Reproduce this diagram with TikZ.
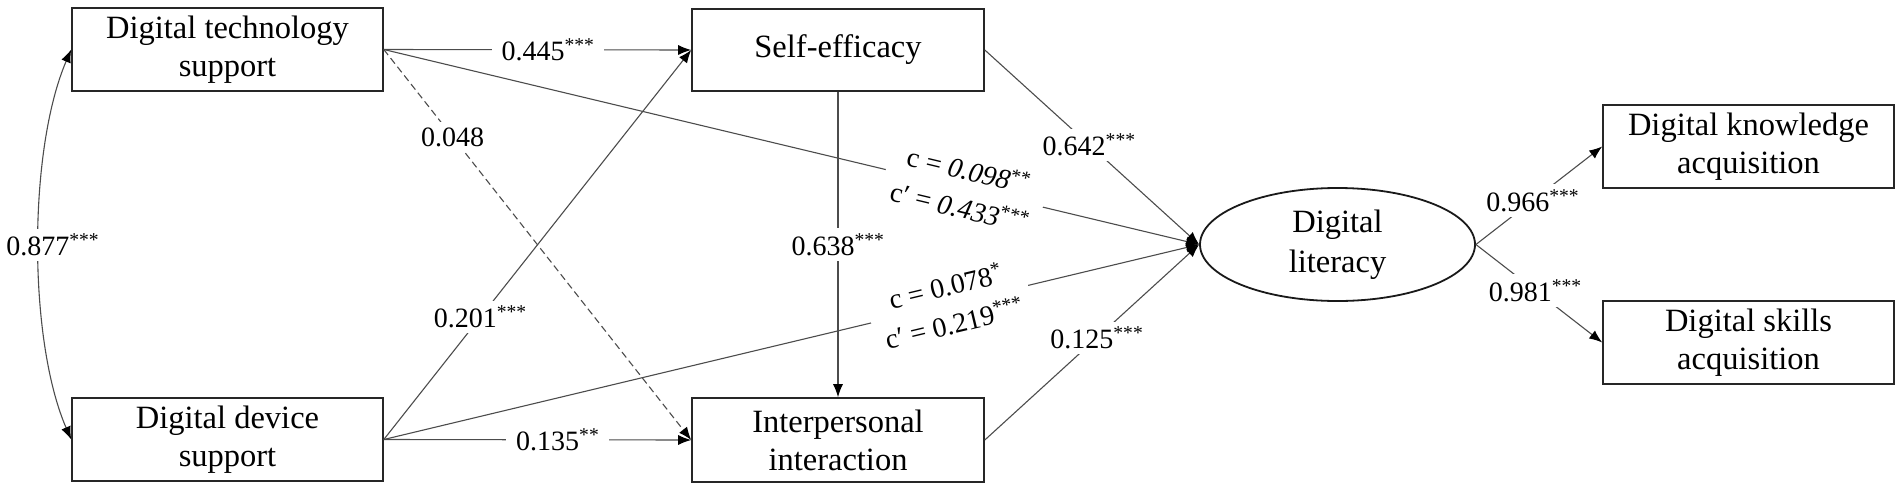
\documentclass[tikz,border=0pt]{standalone}
\usepackage{fontspec}
\setmainfont{Liberation Serif}
\usetikzlibrary{shapes.geometric,arrows.meta}
\begin{document}
\begin{tikzpicture}[x=1pt,y=-1pt,
  box/.style={draw=black!85, line width=1.6pt, minimum width=311pt, minimum height=83pt, inner sep=0pt, align=center, font=\fontsize{32.5}{38}\selectfont},
  conn/.style={draw=black!70, line width=1.1pt},
  arr/.style={conn, -{Latex[length=13pt,width=10pt,color=black]}},
  lab/.style={fill=white, inner xsep=10pt, inner ysep=5pt, font=\fontsize{28}{38}\selectfont, align=center}]
\useasboundingbox (0,0) rectangle (1902,490);

\node[box] (dts) at (227.5,49.5) {Digital technology\\support};
\node[box] (dds) at (227.5,439.5) {Digital device\\support};
\node[box, minimum width=292pt, minimum height=82pt] (se) at (838,50) {Self-efficacy};
\node[box, minimum width=292pt, minimum height=84pt] (ii) at (838,440) {Interpersonal\\interaction};
\node[ellipse, draw=black!90, line width=1.8pt, minimum width=275pt, minimum height=113pt, inner sep=0pt, align=center, font=\fontsize{32.5}{40}\selectfont] (dl) at (1337.5,244.5) {Digital\\literacy};
\node[box, minimum width=291pt] (dka) at (1748.5,146.5) {Digital knowledge\\acquisition};
\node[box, minimum width=291pt] (dsa) at (1748.5,342.5) {Digital skills\\acquisition};

\draw[arr] (dts.east) -- node[lab,pos=0.534] (l445) {0.445\textsuperscript{***}} (se.west);
\draw[arr] (dds.east) -- node[lab,pos=0.314] (l201) {0.201\textsuperscript{***}} (se.west);
\draw[arr, dash pattern=on 7pt off 4pt] (dts.east) -- node[lab,pos=0.224] (l048) {0.048} (ii.west);
\draw[arr] (dds.east) -- node[lab,pos=0.566] (l135) {0.135\textsuperscript{**}} (ii.west);
\draw[arr] (se.south) -- node[lab,pos=0.5] (l638) {0.638\textsuperscript{***}} (ii.north);
\draw[arr] (se.east) -- node[lab,pos=0.487] (l642) {0.642\textsuperscript{***}} (dl.west);
\draw[arr] (ii.east) -- node[lab,pos=0.523] (l125) {0.125\textsuperscript{***}} (dl.west);
\draw[arr] (dts.east) -- node[lab,sloped,pos=0.712] (lc1) {c = \textit{0.098}\textsuperscript{**}\\c′ = \textit{0.433}\textsuperscript{***}} (dl.west);
\draw[arr] (dds.east) -- node[lab,sloped,pos=0.694] (lc2) {c = 0.078\textsuperscript{*}\\c′ = 0.219\textsuperscript{***}} (dl.west);
\draw[arr] (dl.east) -- node[lab,pos=0.45] (l966) {0.966\textsuperscript{***}} (dka.west);
\draw[arr] (dl.east) -- node[lab,pos=0.47] (l981) {0.981\textsuperscript{***}} (dsa.west);
\draw[conn, {Latex[length=13pt,width=10pt,color=black]}-{Latex[length=13pt,width=10pt,color=black]}] (dts.west) .. controls (28,150) and (28,340) .. node[lab,pos=0.5,xshift=14pt] (l877) {0.877\textsuperscript{***}} (dds.west);
\end{tikzpicture}
\end{document}
